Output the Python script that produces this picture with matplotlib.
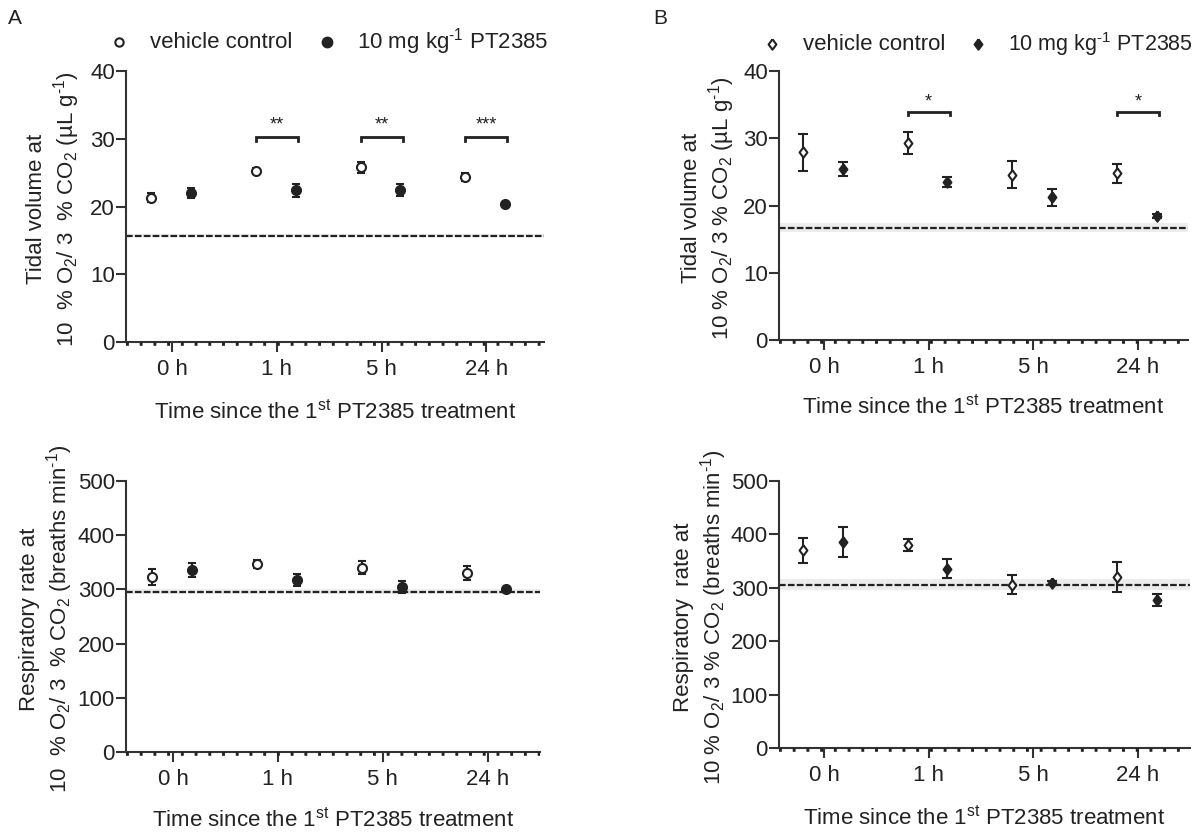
import matplotlib
matplotlib.use("Agg")
import matplotlib.pyplot as plt
from matplotlib.lines import Line2D
import matplotlib.transforms as mtransforms
import numpy as np

plt.rcParams['font.family'] = ['Liberation Sans', 'DejaVu Sans']
plt.rcParams['mathtext.fontset'] = 'custom'
plt.rcParams['mathtext.rm'] = 'Liberation Sans'
plt.rcParams['mathtext.it'] = 'Liberation Sans:italic'
plt.rcParams['mathtext.default'] = 'regular'

TXT = '#222222'
AX = '#333333'

categories = ['0 h', '1 h', '5 h', '24 h']

# Panel A, tidal volume (uL/g)
a_tv_veh = [21.3, 25.3, 25.8, 24.4]
a_tv_veh_err = [0.7, 0.4, 0.8, 0.6]
a_tv_pt = [22.0, 22.4, 22.4, 20.3]
a_tv_pt_err = [0.7, 0.95, 0.85, 0.4]
a_tv_base = 15.7
a_tv_band = 0.2
a_tv_sig_idx = [1, 2, 3]
a_tv_sig_lab = ['**', '**', '***']
a_tv_sig_y = 30.3

# Panel A, respiratory rate (breaths/min)
a_rr_veh = [323, 347, 340, 331]
a_rr_veh_err = [15, 7, 12, 13]
a_rr_pt = [336, 317, 305, 300]
a_rr_pt_err = [13, 11, 11, 4]
a_rr_base = 296
a_rr_band = 5

# Panel B, tidal volume
b_tv_veh = [27.9, 29.3, 24.6, 24.8]
b_tv_veh_err = [2.7, 1.6, 2.0, 1.4]
b_tv_pt = [25.4, 23.5, 21.2, 18.4]
b_tv_pt_err = [1.0, 0.8, 1.3, 0.3]
b_tv_base = 16.7
b_tv_band = 0.65
b_tv_sig_idx = [1, 3]
b_tv_sig_lab = ['*', '*']
b_tv_sig_y = 33.9

# Panel B, respiratory rate
b_rr_veh = [370, 380, 306, 320]
b_rr_veh_err = [23, 11, 18, 28]
b_rr_pt = [385, 336, 309, 277]
b_rr_pt_err = [28, 17, 4, 11]
b_rr_base = 306
b_rr_band = 11

W, H = 1199, 836
fig = plt.figure(figsize=(W / 100, H / 100), dpi=100)

def add_ax(left, right, top, bottom):
    return fig.add_axes([left / W, 1 - bottom / H, (right - left) / W, (bottom - top) / H])

diamond = [(0, 1), (0.75, 0), (0, -1), (-0.75, 0), (0, 1)]

def panel(ax, veh, veh_err, pt, pt_err, base, band, ymax, ystep, xlim,
          marker, ms, cap, xlabelpad, sig=None):
    x = np.arange(len(categories))
    ax.axhspan(base - band, base + band, color='#ececec', zorder=0, lw=0)
    ax.axhline(base, color='#222222', lw=1.6, ls=(0, (3, 1)), zorder=1)
    off = mtransforms.offset_copy(ax.get_yaxis_transform(), fig=fig, x=0, y=-1.5, units='dots')
    ax.plot([0, 1], [0, 0], transform=off, color='#222222', lw=2.6,
            ls=(0, (0.8, 3.0)), zorder=4, clip_on=False)
    ax.errorbar(x - 0.2, veh, yerr=veh_err, fmt='none', ecolor='#222222',
                elinewidth=1.5, capsize=cap, capthick=1.5, zorder=3, clip_on=False)
    ax.errorbar(x + 0.18, pt, yerr=pt_err, fmt='none', ecolor='#222222',
                elinewidth=1.5, capsize=cap, capthick=1.5, zorder=3, clip_on=False)
    ax.plot(x - 0.2, veh, ls='none', marker=marker, ms=ms, mfc='white', mec='#222222',
            mew=1.5, zorder=5, clip_on=False)
    ax.plot(x + 0.18, pt, ls='none', marker=marker, ms=ms, mfc='#222222', mec='#222222',
            mew=1.5, zorder=5, clip_on=False)
    if sig is not None:
        idx, labs, yb, drop, dy = sig
        for i, lab in zip(idx, labs):
            ax.plot([i - 0.2, i - 0.2, i + 0.2, i + 0.2], [yb - drop, yb, yb, yb - drop],
                    color='#222222', lw=2, solid_joinstyle='miter', clip_on=False)
            ax.text(i, yb + dy, lab, ha='center', va='center', fontsize=13, color=TXT)
    ax.set_xlim(*xlim)
    ax.set_ylim(0, ymax)
    ax.set_yticks(np.arange(0, ymax + 1, ystep))
    ax.set_xticks(x)
    ax.set_xticklabels(categories)
    for s in ['top', 'right']:
        ax.spines[s].set_visible(False)
    for s in ['left', 'bottom']:
        ax.spines[s].set_linewidth(1.5)
        ax.spines[s].set_color(AX)
    ax.tick_params(axis='both', direction='out', length=7, width=1.5, color=AX,
                   labelsize=16, labelcolor=TXT)
    ax.tick_params(axis='y', pad=1)
    ax.tick_params(axis='x', pad=5)
    ax.set_xlabel('Time since the 1$^{st}$ PT2385 treatment', fontsize=16, color=TXT,
                  labelpad=xlabelpad)
    return ax

def ylab(ax, dx_px, width_px, text):
    ax.text(-dx_px / width_px, 0.49, text, transform=ax.transAxes, rotation=90,
            ha='center', va='center', multialignment='center', fontsize=16,
            color=TXT, linespacing=1.15)

# Panel A top
axA1 = add_ax(126, 544, 71, 342)
panel(axA1, a_tv_veh, a_tv_veh_err, a_tv_pt, a_tv_pt_err, a_tv_base, a_tv_band,
      40, 10, (-0.44, 3.55), 'o', 6.5, 3, 14,
      sig=(a_tv_sig_idx, a_tv_sig_lab, a_tv_sig_y, 0.7, 1.7))
ylab(axA1, 72, 418, 'Tidal volume at\n10  % O$_2$/ 3  % CO$_2$ (µL g$^{\\text{-1}}$)')

# Panel A bottom
axA2 = add_ax(126, 540, 481, 752)
panel(axA2, a_rr_veh, a_rr_veh_err, a_rr_pt, a_rr_pt_err, a_rr_base, a_rr_band,
      500, 100, (-0.45, 3.5), 'o', 6.5, 3, 13)
ylab(axA2, 79, 414, 'Respiratory rate at\n10  % O$_2$/ 3  % CO$_2$ (breaths min$^{\\text{-1}}$)')

# Panel B top
axB1 = add_ax(779, 1188, 71, 340)
panel(axB1, b_tv_veh, b_tv_veh_err, b_tv_pt, b_tv_pt_err, b_tv_base, b_tv_band,
      40, 10, (-0.43, 3.48), diamond, 7.5, 3.5, 12,
      sig=(b_tv_sig_idx, b_tv_sig_lab, b_tv_sig_y, 0.45, 1.5))
ylab(axB1, 70, 409, 'Tidal volume at\n10 % O$_2$/ 3 % CO$_2$ (µL g$^{\\text{-1}}$)')

# Panel B bottom
axB2 = add_ax(779, 1190, 481, 748)
panel(axB2, b_rr_veh, b_rr_veh_err, b_rr_pt, b_rr_pt_err, b_rr_base, b_rr_band,
      500, 100, (-0.43, 3.5), diamond, 7.5, 3.5, 14)
ylab(axB2, 78, 411, 'Respiratory  rate at\n10 % O$_2$/ 3 % CO$_2$ (breaths min$^{\\text{-1}}$)')

# Panel letters
fig.text(8 / W, 1 - 18 / H, 'A', fontsize=15, color=TXT, ha='left', va='center')
fig.text(653 / W, 1 - 18 / H, 'B', fontsize=15, color=TXT, ha='left', va='center')

# Legends
def legend_item(xm, y, marker, ms, filled, label, xt, fs=16):
    fig.add_artist(Line2D([xm / W], [1 - y / H], transform=fig.transFigure, ls='none',
                          marker=marker, ms=ms, mfc='#222222' if filled else 'white',
                          mec='#222222', mew=1.5))
    fig.text(xt / W, 1 - y / H, label, fontsize=fs, color=TXT, ha='left', va='center')

legend_item(119, 42, 'o', 6, False, 'vehicle control', 150)
legend_item(327, 42, 'o', 7, True, '10 mg kg$^{\\text{-1}}$ PT2385', 357)
legend_item(772, 44, diamond, 7.5, False, 'vehicle control', 803)
legend_item(978, 44, diamond, 7.5, True, '10 mg kg$^{\\text{-1}}$ PT2385', 1008, fs=15.5)

fig.savefig('out.png', dpi=100, facecolor='white')
